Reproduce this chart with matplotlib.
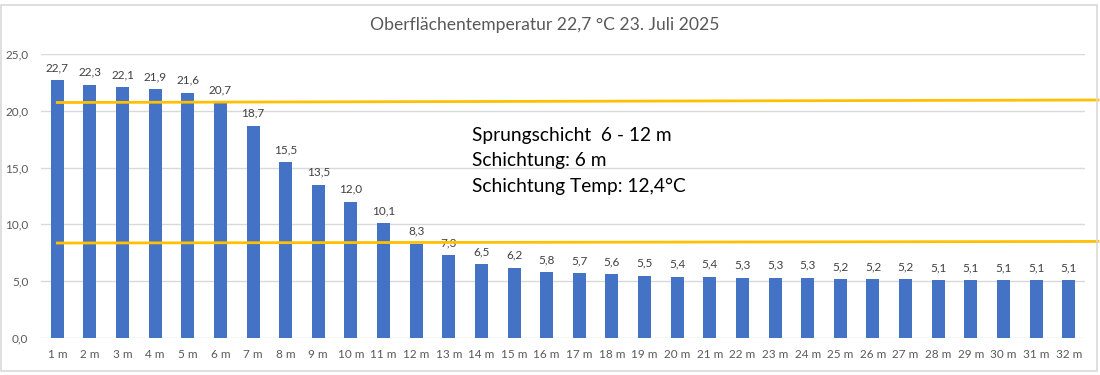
import matplotlib
matplotlib.use("Agg")
from matplotlib import pyplot as plt
from matplotlib.patches import Rectangle

# Tiefen und Temperaturen
tiefen = ["{} m".format(i) for i in range(1, 33)]
temperaturen = [22.7, 22.3, 22.1, 21.9, 21.6, 20.7, 18.7, 15.5, 13.5, 12.0, 10.1, 8.3,
                7.3, 6.5, 6.2, 5.8, 5.7, 5.6, 5.5, 5.4, 5.4, 5.3, 5.3, 5.3, 5.2, 5.2,
                5.2, 5.1, 5.1, 5.1, 5.1, 5.1]

# Sprungschicht-Grenzen (gelbe Linien, von links nach rechts)
linie_x = [0, 31.9]
linie_oben = [20.73, 20.95]
linie_unten = [8.36, 8.5]

titel = "Oberflächentemperatur 22,7 °C 23. Juli 2025"
info = ["Sprungschicht  6 - 12 m", "Schichtung: 6 m", "Schichtung Temp: 12,4°C"]

plt.rcParams["font.family"] = ["Lato", "DejaVu Sans"]

fig = plt.figure(figsize=(11, 3.75), dpi=100)
ax = fig.add_axes([41 / 1100, 1 - 338 / 375, 1044 / 1100, 284 / 375])

x = list(range(len(tiefen)))
ax.bar(x, temperaturen, width=0.4, color="#4472c4", zorder=2)

for xi, v in zip(x, temperaturen):
    ax.annotate("{:.1f}".format(v).replace(".", ","), (xi, v), xytext=(0, 5),
                textcoords="offset points", ha="center", va="bottom",
                fontsize=8.5, color="#404040", zorder=2)

# Linien liegen über den Beschriftungen
ax.plot(linie_x, linie_oben, color="#ffc000", lw=2, zorder=4, clip_on=False)
ax.plot(linie_x, linie_unten, color="#ffc000", lw=2, zorder=4, clip_on=False)

ax.set_xlim(-0.5, 31.5)
ax.set_ylim(0, 25)
ax.set_xticks(x)
ax.set_xticklabels(tiefen, fontsize=8.5, color="#595959")
ax.set_yticks([0, 5, 10, 15, 20, 25])
ax.set_yticklabels(["0,0", "5,0", "10,0", "15,0", "20,0", "25,0"], fontsize=8.5, color="#595959")
ax.tick_params(length=0, pad=8)
ax.tick_params(axis="y", pad=9)

ax.grid(axis="y", color="#d9d9d9", lw=1, zorder=0)
for s in ["top", "right", "left", "bottom"]:
    ax.spines[s].set_visible(False)

for i, t in enumerate(info):
    fig.text(472 / 1100, 1 - (135 + i * 25.5) / 375, t, fontsize=13.8, color="black",
             va="center", ha="left")

fig.text(545 / 1100, 1 - 25 / 375, titel, fontsize=12.6, color="#595959",
         ha="center", va="center")

# Rahmen
fig.patches.append(Rectangle((1 / 1100, 1 - 371 / 375), 1096 / 1100, 366 / 375,
                             transform=fig.transFigure, fill=False,
                             edgecolor="#d9d9d9", lw=1.2))

plt.savefig("out.png", dpi=100)
